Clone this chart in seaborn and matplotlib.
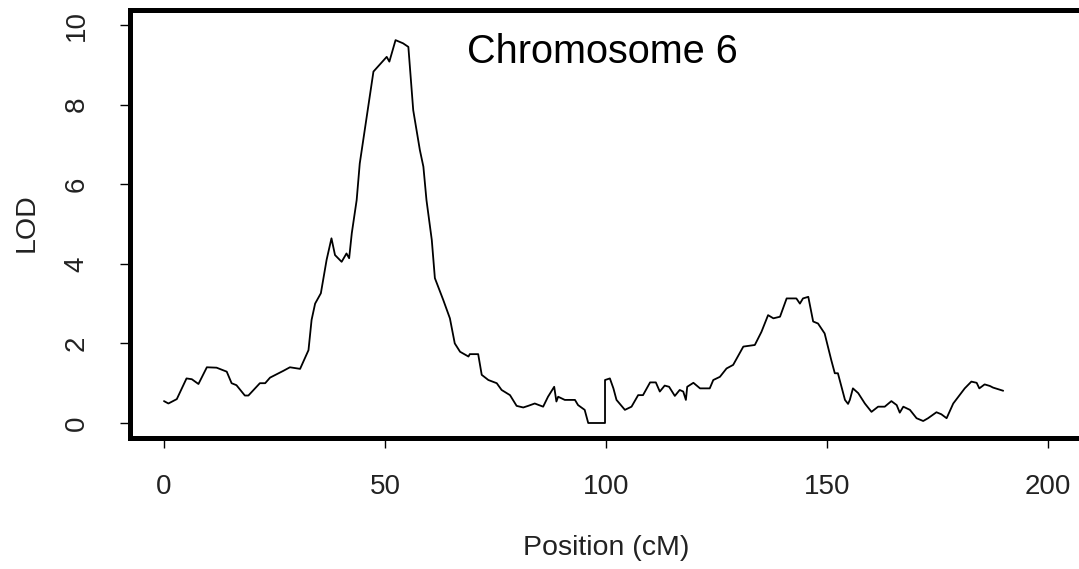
import matplotlib
matplotlib.use("Agg")
import matplotlib.pyplot as plt
import seaborn as sns
import pandas as pd

# LOD profile (position in cM, LOD score)
position_cm = [
    0.0, 1.0, 2.9, 5.1, 6.3, 7.8, 9.7, 11.9, 14.2, 15.3, 16.4, 18.3, 19.1,
    21.7, 22.9, 24.0, 27.0, 28.5, 30.8, 32.7, 33.4, 34.2, 35.5, 36.8, 37.9,
    38.7, 40.2, 41.3, 41.9, 42.5, 43.6, 44.3, 47.4, 50.4, 51.0, 52.4, 54.1,
    55.3, 56.4, 57.9, 58.7, 59.4, 60.6, 61.3, 63.2, 64.7, 65.8, 67.0, 68.9,
    69.2, 71.1, 71.9, 73.4, 75.3, 76.4, 78.3, 79.8, 81.3, 82.4, 83.9, 85.8,
    86.9, 88.3, 88.8, 89.2, 90.7, 93.0, 93.7, 95.2, 96.0, 99.8, 99.8, 100.9,
    101.7, 102.4, 104.3, 105.8, 107.3, 108.4, 110.0, 111.3, 112.2, 113.3,
    114.3, 115.6, 116.7, 117.5, 118.1, 118.4, 119.8, 121.3, 123.5, 124.3,
    125.8, 127.3, 128.8, 131.1, 133.7, 135.2, 136.7, 137.9, 139.4, 140.9,
    143.1, 143.9, 144.6, 145.8, 146.9, 148.0, 149.5, 151.0, 151.8, 152.5,
    154.1, 154.8, 155.2, 155.9, 157.1, 158.6, 160.1, 161.6, 163.1, 164.6,
    165.8, 166.5, 167.3, 168.8, 170.3, 171.8, 172.9, 174.8, 175.9, 177.1,
    178.6, 181.2, 182.7, 183.9, 184.5, 185.7, 186.9, 187.6, 189.9,
]
lod = [
    0.55, 0.49, 0.60, 1.12, 1.10, 0.98, 1.40, 1.39, 1.29, 1.00, 0.95, 0.69,
    0.69, 1.00, 1.00, 1.14, 1.31, 1.40, 1.36, 1.83, 2.59, 3.00, 3.26, 4.10,
    4.64, 4.22, 4.05, 4.26, 4.14, 4.77, 5.60, 6.52, 8.83, 9.20, 9.08, 9.62,
    9.54, 9.45, 7.86, 6.86, 6.44, 5.60, 4.60, 3.64, 3.09, 2.63, 2.00, 1.79,
    1.67, 1.73, 1.73, 1.21, 1.08, 1.00, 0.83, 0.70, 0.43, 0.39, 0.43, 0.49,
    0.41, 0.66, 0.91, 0.54, 0.66, 0.58, 0.58, 0.45, 0.33, 0.00, 0.00, 1.08,
    1.12, 0.87, 0.58, 0.33, 0.41, 0.70, 0.70, 1.02, 1.02, 0.79, 0.94, 0.91,
    0.68, 0.83, 0.79, 0.58, 0.91, 1.01, 0.87, 0.87, 1.08, 1.16, 1.37, 1.46,
    1.92, 1.96, 2.29, 2.71, 2.63, 2.67, 3.13, 3.13, 3.00, 3.13, 3.17, 2.55,
    2.50, 2.25, 1.58, 1.25, 1.25, 0.58, 0.48, 0.58, 0.87, 0.75, 0.49, 0.28,
    0.41, 0.41, 0.55, 0.45, 0.26, 0.41, 0.33, 0.12, 0.05, 0.12, 0.27, 0.22,
    0.12, 0.49, 0.87, 1.04, 1.01, 0.87, 0.97, 0.93, 0.89, 0.81,
]
x_ticks = [0, 50, 100, 150, 200]
y_ticks = [0, 2, 4, 6, 8, 10]
title = "Chromosome 6"

sns.set_style("white")
plt.rcParams["font.family"] = ["Liberation Sans", "DejaVu Sans"]

df = pd.DataFrame({"position": position_cm, "lod": lod})

fig = plt.figure(figsize=(10.79, 5.69), dpi=100)
# plot box runs off the right edge, as in the original R figure
ax = fig.add_axes([130 / 1079, 1 - 438 / 569, (1092 - 130) / 1079, 428 / 569])

sns.lineplot(data=df, x="position", y="lod", ax=ax, color="black",
             linewidth=1.3, estimator=None, sort=False)

ax.set_xlim(-7.69, 210)
ax.set_ylim(-0.377, 10.377)
ax.set_xticks(x_ticks)
ax.set_yticks(y_ticks)
ax.set_xlabel("")
ax.set_ylabel("")

for side in ["left", "right", "top", "bottom"]:
    ax.spines[side].set_visible(True)
    ax.spines[side].set_color("black")
    ax.spines[side].set_linewidth(3.6)

ax.tick_params(axis="both", direction="out", length=7, width=1, color="black",
               labelsize=20, labelcolor="#222222")
ax.tick_params(axis="x", pad=19, bottom=True)
ax.tick_params(axis="y", pad=22, left=True)
for lbl in ax.get_yticklabels():
    lbl.set_rotation(90)
    lbl.set_va("center")

ax.text(99.2, 9.33, title, ha="center", va="center", fontsize=28.5, color="black")

fig.text(606 / 1079, 1 - 548 / 569, "Position (cM)", ha="center", va="center",
         fontsize=20.5, color="#222222")
fig.text(27 / 1079, 1 - 223 / 569, "LOD", ha="center", va="center",
         rotation=90, fontsize=20.5, color="#222222")

fig.savefig("out.png", dpi=100)
plt.close(fig)
